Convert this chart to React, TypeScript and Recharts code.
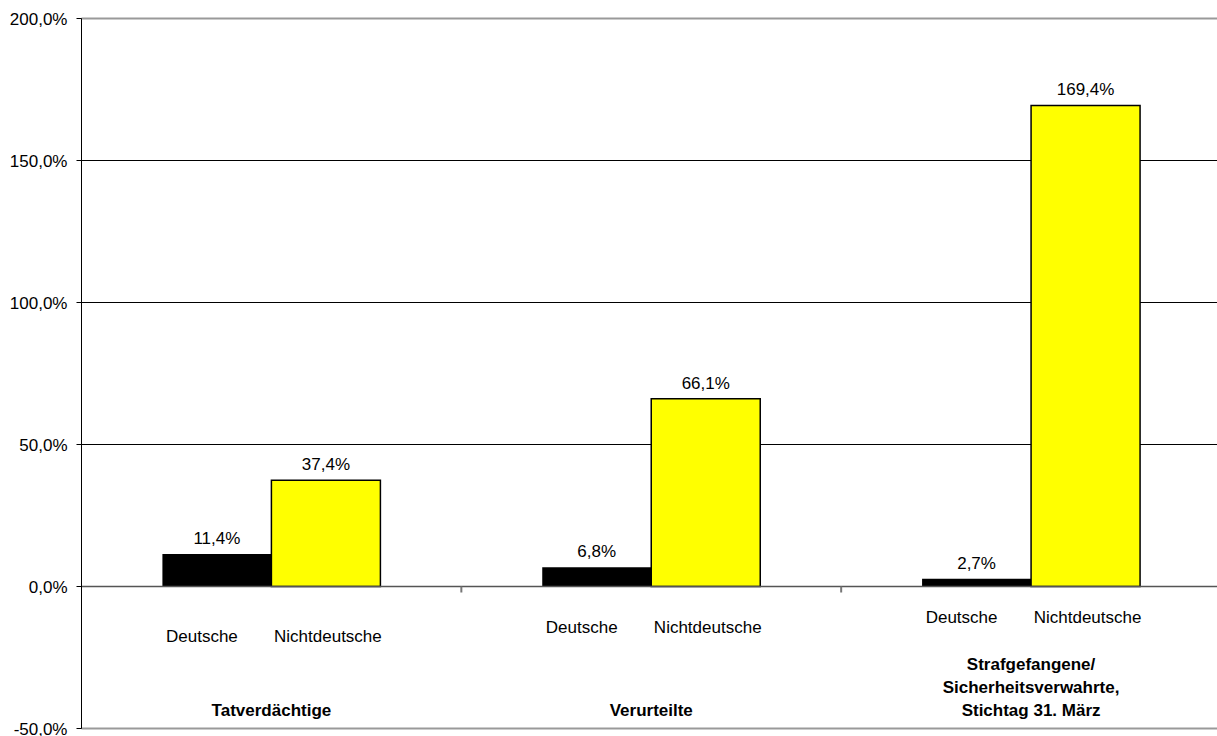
// Relative change by nationality for suspects, convicts and prisoners.
//
// Two bars per group (Deutsche / Nichtdeutsche) on a -50..200 % scale,
// with the series names printed under each bar and the group name
// printed at the foot of the plot, two-level category style.

import {
  Bar,
  BarChart,
  CartesianGrid,
  LabelList,
  ReferenceLine,
  XAxis,
  YAxis,
} from "recharts";

const groups = ["Tatverdächtige", "Verurteilte", "Strafgefangene"];
const groupLines = [
  ["Tatverdächtige"],
  ["Verurteilte"],
  ["Strafgefangene/", "Sicherheitsverwahrte,", "Stichtag 31. März"],
];
const seriesNames = ["Deutsche", "Nichtdeutsche"];
const deutsche = [11.4, 6.8, 2.7];
const nichtdeutsche = [37.4, 66.1, 169.4];
const yTicks = [-50, 0, 50, 100, 150, 200];

// how far below the zero line each group's series names sit
const seriesLabelDrop = [50, 41, 31];

const FONT = "'Liberation Sans', Arial, sans-serif";

const rows = groups.map((group, i) => ({
  group,
  deutsche: deutsche[i],
  nichtdeutsche: nichtdeutsche[i],
}));

const percent = (v: number) => `${v.toFixed(1).replace(".", ",")}%`;

function seriesLabel(name: string, shift: number) {
  return (props: any) => {
    const { x, y, width, height, index } = props;
    const zeroY = Number(y) + Number(height);
    return (
      <text
        key={`${name}-${index}`}
        x={Number(x) + Number(width) / 2 + shift}
        y={zeroY + seriesLabelDrop[index]}
        dy="0.35em"
        textAnchor="middle"
        fontSize={17}
        fontFamily={FONT}
        fill="#000"
      >
        {name}
      </text>
    );
  };
}

function GroupTick(props: any) {
  const { x, y, payload } = props;
  const lines = groupLines[groups.indexOf(payload.value)] ?? [];
  const last = lines.length - 1;
  return (
    <g>
      {lines.map((line, i) => (
        <text
          key={line}
          x={x}
          y={y - 26 - (last - i) * 23}
          dy="0.35em"
          textAnchor="middle"
          fontSize={17}
          fontWeight="bold"
          fontFamily={FONT}
          fill="#000"
        >
          {line}
        </text>
      ))}
    </g>
  );
}

// zero line with small marks at the borders between groups
function ZeroLine(props: any) {
  const { x1, x2, y1 } = props;
  const span = x2 - x1;
  const marks = groups.slice(1).map((_, i) => x1 + (span * (i + 1)) / groups.length);
  return (
    <g>
      <line x1={x1} x2={x2} y1={y1} y2={y1} stroke="#555" strokeWidth={1.5} />
      {marks.map((mx) => (
        <line key={mx} x1={mx} x2={mx} y1={y1} y2={y1 + 6} stroke="#777" strokeWidth={2} />
      ))}
    </g>
  );
}

export default function App() {
  return (
    <div
      style={{
        position: "absolute",
        left: 0,
        top: 0,
        width: 1217,
        height: 736,
        overflow: "hidden",
        background: "#fff",
      }}
    >
      <BarChart
        width={1225}
        height={736}
        data={rows}
        margin={{ top: 18.5, right: 4, left: 0.5, bottom: 0 }}
        barCategoryGap="21.3%"
        barGap={0}
        style={{ fontFamily: FONT }}
      >
        <CartesianGrid vertical={false} stroke="#000" strokeWidth={1} />
        <XAxis
          dataKey="group"
          height={7.5}
          interval={0}
          tickLine={false}
          axisLine={{ stroke: "#999", strokeWidth: 2 }}
          tick={<GroupTick />}
        />
        <YAxis
          width={81}
          domain={[-50, 200]}
          ticks={yTicks}
          interval={0}
          allowDataOverflow
          tickFormatter={percent}
          tickSize={5}
          tickMargin={9}
          axisLine={{ stroke: "#000" }}
          tickLine={{ stroke: "#000" }}
          tick={{ fill: "#000", fontSize: 17, fontFamily: FONT }}
        />
        <ReferenceLine y={200} stroke="#999" strokeWidth={2} />
        <Bar dataKey="deutsche" name={seriesNames[0]} fill="#000" isAnimationActive={false}>
          <LabelList
            dataKey="deutsche"
            position="top"
            offset={10}
            formatter={(v: any) => percent(Number(v))}
            style={{ fill: "#000", fontSize: 17, fontFamily: FONT }}
          />
          <LabelList dataKey="deutsche" content={seriesLabel(seriesNames[0], -15)} />
        </Bar>
        <Bar
          dataKey="nichtdeutsche"
          name={seriesNames[1]}
          fill="#ffff00"
          stroke="#000"
          strokeWidth={1.5}
          isAnimationActive={false}
        >
          <LabelList
            dataKey="nichtdeutsche"
            position="top"
            offset={10}
            formatter={(v: any) => percent(Number(v))}
            style={{ fill: "#000", fontSize: 17, fontFamily: FONT }}
          />
          <LabelList dataKey="nichtdeutsche" content={seriesLabel(seriesNames[1], 2)} />
        </Bar>
        <ReferenceLine y={0} shape={<ZeroLine />} />
      </BarChart>
    </div>
  );
}
